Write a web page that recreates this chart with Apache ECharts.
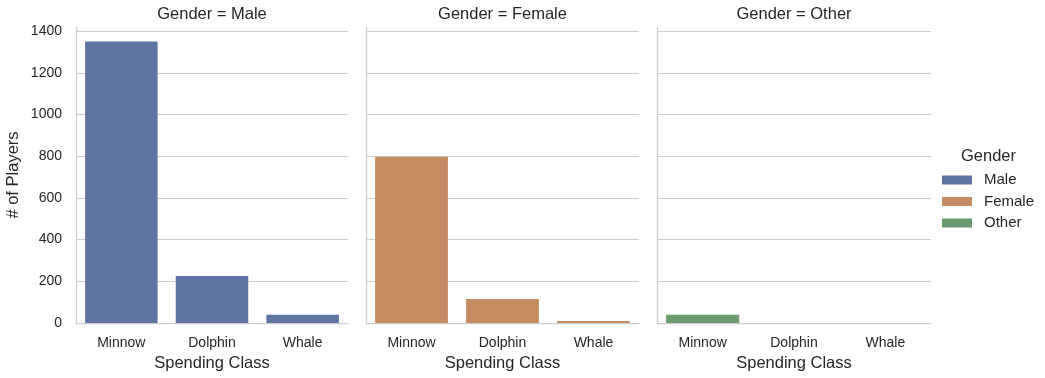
<!DOCTYPE html>
<html>
<head>
<meta charset="utf-8">
<script src="https://cdn.jsdelivr.net/npm/echarts@6/dist/echarts.min.js"></script>
<style>html,body{margin:0;padding:0;background:#fff}#c{width:1045px;height:378px}</style>
</head>
<body>
<div id="c"></div>
<script>
const categories = ['Minnow', 'Dolphin', 'Whale'];
const genders = ['Male', 'Female', 'Other'];
const maleValues = [1350, 225, 40];
const femaleValues = [797, 115, 10];
const otherValues = [40, 0, 0];
const yTicks = [0, 200, 400, 600, 800, 1000, 1200, 1400];

const colors = ['#5f74a3', '#c38c63', '#6a9b71'];
const seriesValues = [maleValues, femaleValues, otherValues];
const txt = '#262626';
const font = 'Liberation Sans, Arial, sans-serif';
const gridsPos = [
  {left: 76, width: 272},
  {left: 366, width: 273},
  {left: 657, width: 274}
];

const chart = echarts.init(document.getElementById('c'), null, {renderer: 'canvas'});
const option = {
  animation: false,
  textStyle: {fontFamily: font, color: txt},
  title: gridsPos.map((g, i) => ({
    text: 'Gender = ' + genders[i],
    left: g.left + g.width / 2,
    textAlign: 'center',
    top: 4,
    padding: 0,
    textStyle: {fontSize: 16.5, lineHeight: 20, fontWeight: 'normal', color: txt, fontFamily: font}
  })).concat([{
    text: 'Gender',
    left: 988.5,
    textAlign: 'center',
    top: 146,
    padding: 0,
    textStyle: {fontSize: 16.5, lineHeight: 20, fontWeight: 'normal', color: txt, fontFamily: font}
  }]),
  legend: {
    data: genders,
    orient: 'vertical',
    left: 942,
    top: 172.5,
    padding: 0,
    itemWidth: 30,
    itemHeight: 9,
    itemGap: 6.5,
    icon: 'rect',
    textStyle: {fontSize: 15, lineHeight: 15, color: txt, fontFamily: font, padding: [0, 0, 0, 7]}
  },
  grid: gridsPos.map(g => ({left: g.left, width: g.width, top: 27, bottom: 55, containLabel: false})),
  xAxis: gridsPos.map((g, i) => ({
    type: 'category',
    gridIndex: i,
    data: categories,
    name: 'Spending Class',
    nameLocation: 'middle',
    nameGap: 31,
    nameTextStyle: {fontSize: 16.5, color: txt, fontFamily: font},
    axisLine: {show: true, lineStyle: {color: '#cccccc', width: 1.25}},
    axisTick: {show: false},
    axisLabel: {fontSize: 14, color: txt, margin: 13, fontFamily: font},
    splitLine: {show: false}
  })),
  yAxis: gridsPos.map((g, i) => ({
    type: 'value',
    gridIndex: i,
    min: 0,
    max: 1420,
    interval: 200,
    name: i === 0 ? '# of Players' : '',
    nameLocation: 'middle',
    nameGap: 54,
    nameTextStyle: {fontSize: 16.5, color: txt, fontFamily: font},
    axisLine: {show: true, lineStyle: {color: '#cccccc', width: 1.25}},
    axisTick: {show: false},
    axisLabel: {
      show: i === 0,
      fontSize: 14, color: txt, margin: 14, fontFamily: font,
      showMaxLabel: false,
      formatter: v => (yTicks.indexOf(v) >= 0 ? String(v) : '')
    },
    splitLine: {show: true, showMaxLine: false, lineStyle: {color: '#cccccc', width: 1}}
  })),
  series: genders.map((gname, i) => ({
    name: gname,
    type: 'bar',
    xAxisIndex: i,
    yAxisIndex: i,
    data: seriesValues[i],
    barCategoryGap: '20%',
    itemStyle: {color: colors[i]}
  }))
};
chart.setOption(option);
</script>
</body>
</html>
